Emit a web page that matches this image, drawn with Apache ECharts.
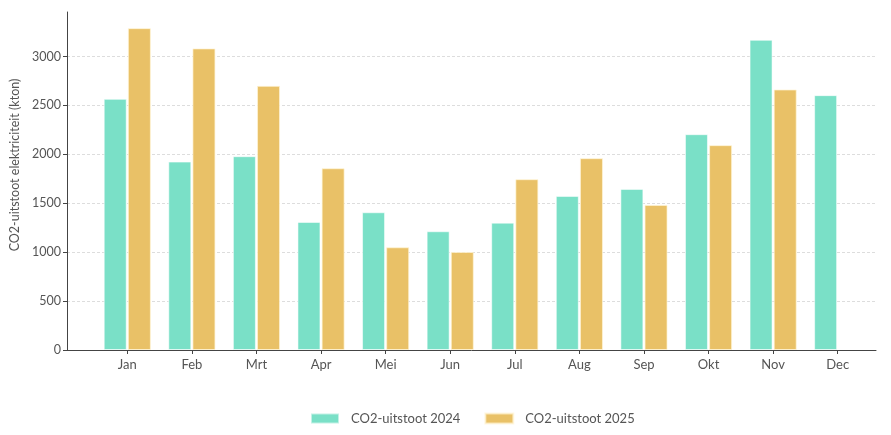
<!DOCTYPE html>
<html>
<head>
<meta charset="utf-8">
<script src="https://cdn.jsdelivr.net/npm/echarts@6/dist/echarts.min.js"></script>
<style>
html,body{margin:0;padding:0;background:#fff;}
#c{width:891px;height:435px;}
</style>
</head>
<body>
<div id="c"></div>
<script>
const months = ['Jan','Feb','Mrt','Apr','Mei','Jun','Jul','Aug','Sep','Okt','Nov','Dec'];
const co2_2024 = [2567, 1926, 1981, 1309, 1408, 1214, 1302, 1575, 1647, 2206, 3171, 2605];
const co2_2025 = [3290, 3083, 2700, 1858, 1050, 1002, 1746, 1961, 1483, 2094, 2663, null];
const seriesNames = ['CO2-uitstoot 2024', 'CO2-uitstoot 2025'];
const yTicks = {min: 0, max: 3455, interval: 500};

const FONT = 'Lato, "Open Sans", sans-serif';
const TXT = '#555555';
const chart = echarts.init(document.getElementById('c'), null, {renderer: 'canvas'});
chart.setOption({
  animation: false,
  backgroundColor: '#ffffff',
  textStyle: {fontFamily: FONT},
  legend: {
    bottom: 10,
    left: 310,
    itemWidth: 28,
    itemHeight: 10,
    itemGap: 24,
    padding: 0,
    icon: 'rect',
    textStyle: {color: TXT, fontSize: 13, fontFamily: FONT, padding: [0, 0, 0, 7]},
    data: seriesNames
  },
  grid: [
    {left: 67, right: 15, top: 12, bottom: 85, containLabel: false, outerBoundsMode: 'none'},
    {left: 95, right: 21, top: 12, bottom: 85, containLabel: false, outerBoundsMode: 'none'}
  ],
  xAxis: [
    {gridIndex: 0, type: 'value', min: 0, max: 1,
     axisLine: {show: true, lineStyle: {color: '#444', width: 1}},
     axisTick: {show: false}, axisLabel: {show: false}, splitLine: {show: false}},
    {gridIndex: 1, type: 'category', data: months, boundaryGap: true,
     axisLine: {show: false},
     axisTick: {show: true, alignWithLabel: true, length: 4, lineStyle: {color: '#444'}},
     axisLabel: {color: TXT, fontSize: 13, margin: 8, fontFamily: FONT},
     splitLine: {show: false}}
  ],
  yAxis: [
    {gridIndex: 0, type: 'value', min: yTicks.min, max: yTicks.max, interval: yTicks.interval,
     name: 'CO2-uitstoot elektriciteit (kton)',
     nameLocation: 'middle', nameGap: 42, nameRotate: 90,
     nameTextStyle: {color: TXT, fontSize: 12.5, fontFamily: FONT, padding: [0, 0, 0, 32]},
     axisLine: {show: true, lineStyle: {color: '#444', width: 1}},
     axisTick: {show: true, length: 4, lineStyle: {color: '#444'}},
     axisLabel: {color: TXT, fontSize: 12.5, margin: 6, fontFamily: FONT,
                 showMaxLabel: false, formatter: function (v) { return String(v); }},
     splitLine: {show: true, showMinLine: false, showMaxLine: false,
                 lineStyle: {color: '#dddddd', type: [3, 2], width: 1}}},
    {gridIndex: 1, type: 'value', min: yTicks.min, max: yTicks.max, interval: yTicks.interval,
     show: false, splitLine: {show: false}}
  ],
  series: [
    {name: seriesNames[0], type: 'bar', xAxisIndex: 1, yAxisIndex: 1,
     data: co2_2024, barWidth: 23, barGap: '5%',
     itemStyle: {color: '#7AE0C7', borderColor: 'rgba(255,255,255,0.55)', borderWidth: 1}},
    {name: seriesNames[1], type: 'bar', xAxisIndex: 1, yAxisIndex: 1,
     data: co2_2025, barWidth: 23, barGap: '5%',
     itemStyle: {color: '#E9C167', borderColor: 'rgba(255,245,215,0.7)', borderWidth: 1}}
  ]
});
</script>
</body>
</html>
